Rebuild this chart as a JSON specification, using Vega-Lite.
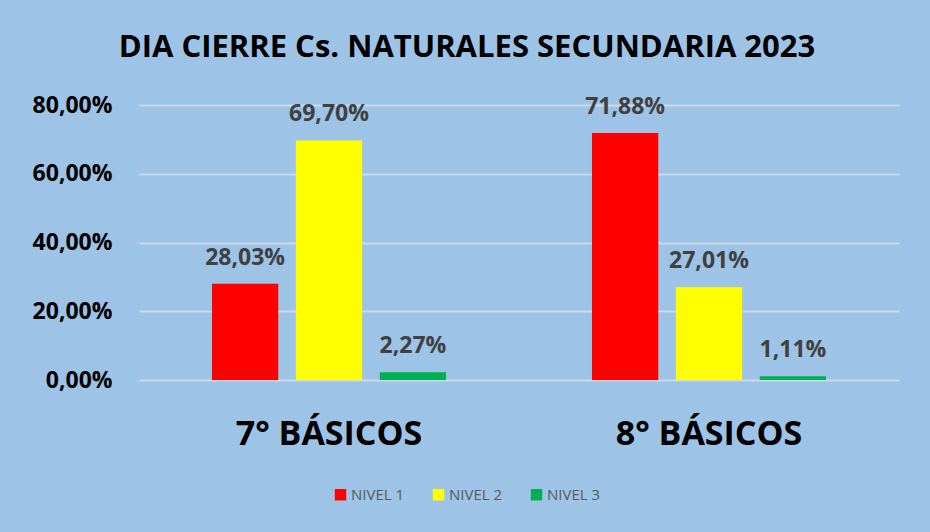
{
  "$schema": "https://vega.github.io/schema/vega-lite/v6.json",
  "width": 760,
  "height": 275,
  "autosize": {"type": "none"},
  "padding": {"left": 139, "top": 105, "right": 31, "bottom": 152},
  "background": "#9DC3E6",
  "config": {
    "view": {"stroke": null},
    "locale": {"number": {"decimal": ",", "thousands": ".", "grouping": [3], "currency": ["", " €"]}},
    "font": "Open Sans"
  },
  "title": {
    "text": "DIA  CIERRE Cs. NATURALES SECUNDARIA 2023",
    "font": "Open Sans",
    "fontSize": 31,
    "fontWeight": "bold",
    "color": "#000000",
    "anchor": "middle",
    "dx": -52,
    "offset": 30
  },
  "data": {
    "values": [
      {"curso": "7° BÁSICOS", "nivel": "NIVEL 1", "valor": 0.2803},
      {"curso": "7° BÁSICOS", "nivel": "NIVEL 2", "valor": 0.6970},
      {"curso": "7° BÁSICOS", "nivel": "NIVEL 3", "valor": 0.0227},
      {"curso": "8° BÁSICOS", "nivel": "NIVEL 1", "valor": 0.7188},
      {"curso": "8° BÁSICOS", "nivel": "NIVEL 2", "valor": 0.2701},
      {"curso": "8° BÁSICOS", "nivel": "NIVEL 3", "valor": 0.0111}
    ]
  },
  "encoding": {
    "x": {
      "field": "curso",
      "type": "nominal",
      "scale": {"paddingInner": 0, "paddingOuter": 0},
      "axis": {
        "title": null,
        "labelAngle": 0,
        "labelLimit": 0,
        "labelFont": "Open Sans",
        "labelFontSize": 34,
        "labelFontWeight": "bold",
        "labelColor": "#000000",
        "labelPadding": 37,
        "ticks": false,
        "domain": false,
        "grid": false
      }
    },
    "xOffset": {
      "field": "nivel",
      "type": "nominal",
      "scale": {"paddingInner": 0.21, "paddingOuter": 0.87}
    },
    "y": {
      "field": "valor",
      "type": "quantitative",
      "scale": {"domain": [0, 0.8], "nice": false},
      "axis": {
        "title": null,
        "format": ".2%",
        "values": [0, 0.2, 0.4, 0.6, 0.8],
        "labelFont": "Open Sans",
        "labelFontSize": 23,
        "labelFontWeight": "bold",
        "labelColor": "#000000",
        "labelPadding": 27,
        "ticks": false,
        "domain": false,
        "grid": true,
        "gridColor": "#CCDAEA",
        "gridWidth": 2
      }
    }
  },
  "layer": [
    {
      "mark": {"type": "bar"},
      "encoding": {
        "color": {
          "field": "nivel",
          "type": "nominal",
          "scale": {"domain": ["NIVEL 1", "NIVEL 2", "NIVEL 3"], "range": ["#FF0000", "#FFFF00", "#00B050"]},
          "legend": {
            "title": null,
            "orient": "none",
            "direction": "horizontal",
            "legendX": 194,
            "legendY": 382,
            "symbolType": "square",
            "symbolSize": 130,
            "symbolStrokeWidth": 0,
            "labelFont": "Open Sans",
            "labelFontSize": 15,
            "labelColor": "#595959",
            "labelOffset": 3,
            "columnPadding": 26
          }
        }
      }
    },
    {
      "mark": {"type": "text", "baseline": "alphabetic", "dy": -19, "font": "Open Sans", "fontSize": 23, "fontWeight": "bold", "color": "#404040"},
      "encoding": {
        "text": {"field": "valor", "type": "quantitative", "format": ".2%"}
      }
    }
  ]
}
